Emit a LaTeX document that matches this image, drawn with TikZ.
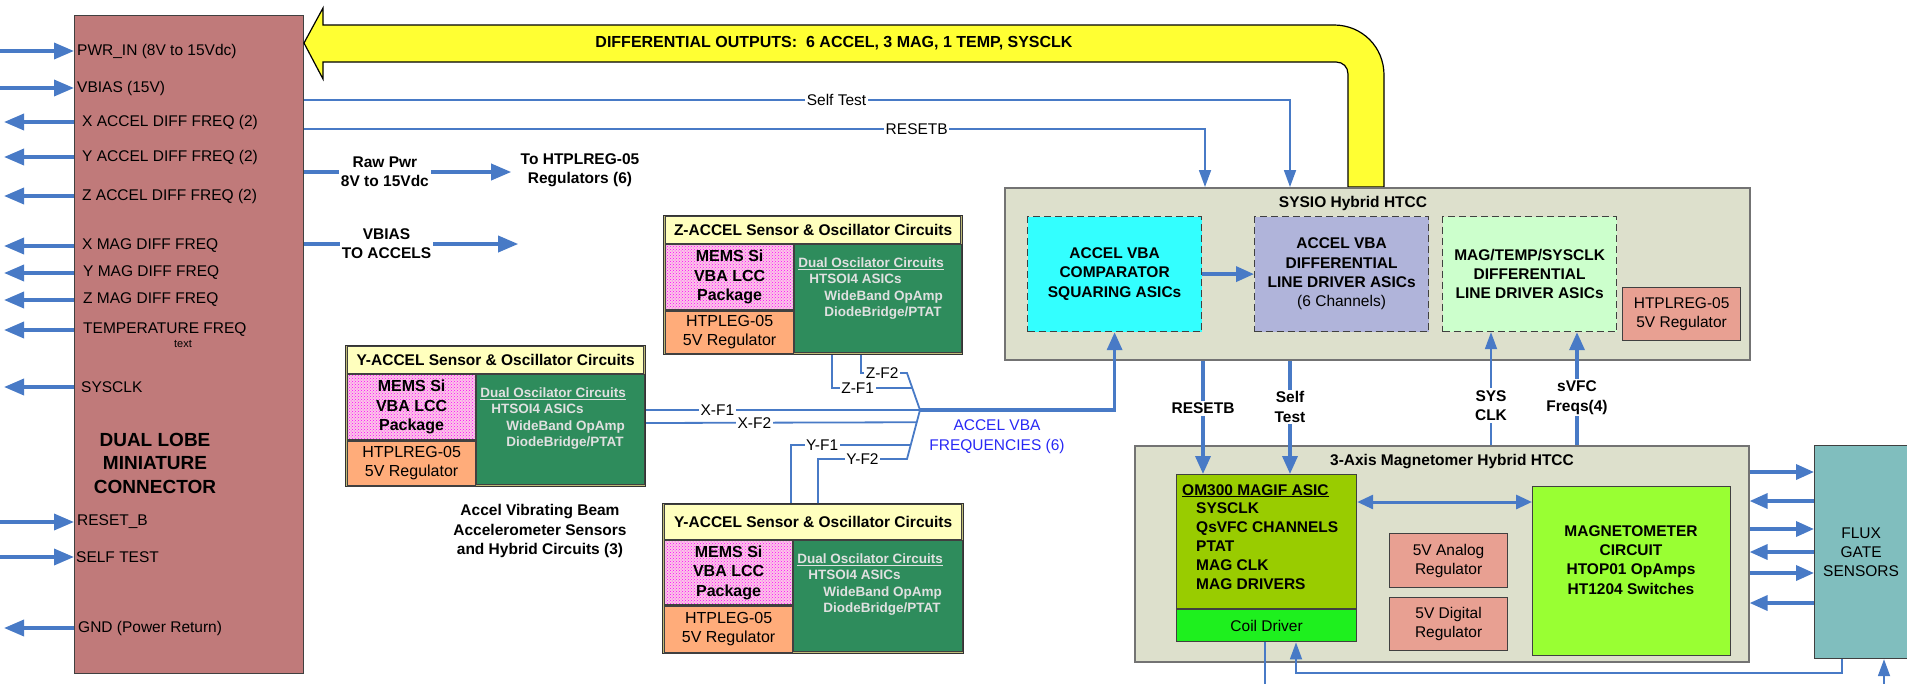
\documentclass[tikz,border=0pt]{standalone}
\usepackage{fontspec}
\setmainfont{Liberation Sans}
\usetikzlibrary{positioning,arrows.meta,patterns,calc}

\definecolor{connred}{RGB}{192,122,122}
\definecolor{sigblue}{RGB}{72,122,198}
\definecolor{busyellow}{RGB}{255,255,51}
\definecolor{htcc}{RGB}{221,224,204}
\definecolor{bandyellow}{RGB}{255,255,190}
\definecolor{modtan}{RGB}{190,186,120}
\definecolor{oscgreen}{RGB}{46,140,92}
\definecolor{ldoorange}{RGB}{255,172,122}
\definecolor{regsalmon}{RGB}{232,160,146}
\definecolor{cmpcyan}{RGB}{51,255,255}
\definecolor{drvlav}{RGB}{176,180,218}
\definecolor{drvmint}{RGB}{204,255,204}
\definecolor{asicgreen}{RGB}{153,204,0}
\definecolor{coilgreen}{RGB}{30,240,30}
\definecolor{maglime}{RGB}{153,255,51}
\definecolor{fluxteal}{RGB}{128,190,190}
\definecolor{freqblue}{RGB}{40,40,245}

\newcommand{\nfont}{\fontsize{15.5}{18.5}\selectfont}
\newcommand{\bfont}{\fontsize{15.5}{19.3}\selectfont\bfseries}

\begin{document}
\begin{tikzpicture}[x=1pt,y=-1pt,
    every node/.style={inner sep=0pt,font=\nfont},
    pinlbl/.style={anchor=west},
    pinin/.style={draw=sigblue,line width=3.5pt,{Triangle[length=20pt,width=16pt]}-},
    pinout/.style={draw=sigblue,line width=3.5pt,-{Triangle[length=20pt,width=16pt]}},
    sig/.style={draw=sigblue,line width=3.5pt,-{Triangle[length=18pt,width=15pt]}},
    sigboth/.style={draw=sigblue,line width=3pt,{Triangle[length=16pt,width=14pt]}-{Triangle[length=16pt,width=14pt]}},
    thinsig/.style={draw=sigblue,line width=1.8pt,-{Triangle[length=17pt,width=12pt]}},
    wire/.style={draw=sigblue,line width=1.8pt},
    lbl/.style={fill=white,inner sep=1.5pt},
    blbl/.style={fill=white,inner sep=2pt,align=center,font=\bfont},
    plainbox/.style={anchor=north west,draw=black!75,line width=1.2pt,align=center},
    connbox/.style={plainbox,fill=connred},
    hybrid/.style={plainbox,fill=htcc,draw=black!55,line width=1.6pt},
    asicbox/.style={plainbox,dash pattern=on 7pt off 4pt,font=\bfont},
    regbox/.style={plainbox,fill=regsalmon,font=\fontsize{15.5}{19}\selectfont},
    modbox/.style={plainbox,fill=modtan,draw=black!80},
    bandbox/.style={plainbox,fill=bandyellow,font=\fontsize{15.5}{18}\selectfont\bfseries},
    memsbox/.style={plainbox,preaction={fill=magenta!22},pattern=crosshatch dots,pattern color=magenta,
                    font=\fontsize{16}{19.5}\selectfont\bfseries},
    ldobox/.style={plainbox,fill=ldoorange,font=\fontsize{16}{19}\selectfont},
    oscbox/.style={plainbox,fill=oscgreen},
    osctext/.style={anchor=north west,align=left,text=white!88!black,font=\fontsize{13.5}{16.5}\selectfont\bfseries}]

  \useasboundingbox (0,0) rectangle (1907,683);

  % connector and its pins
  \node[connbox,minimum width=229pt,minimum height=658pt] (conn) at (74,15) {};
  \node[align=center,font=\fontsize{19}{23.5}\selectfont\bfseries] (conntitle) at (155,463) {DUAL LOBE\\MINIATURE\\CONNECTOR};

  \node[pinlbl] (pwr) at (77,51) {PWR\_IN (8V to 15Vdc)};
  \node[pinlbl] (vbias) at (77,88) {VBIAS (15V)};
  \node[pinlbl] (xacc) at (82,122) {X ACCEL DIFF FREQ (2)};
  \node[pinlbl] (yacc) at (82,157) {Y ACCEL DIFF FREQ (2)};
  \node[pinlbl] (zacc) at (82,196) {Z ACCEL DIFF FREQ (2)};
  \node[pinlbl] (xmag) at (82,246) {X MAG DIFF FREQ};
  \node[pinlbl] (ymag) at (83,273) {Y MAG DIFF FREQ};
  \node[pinlbl] (zmag) at (83,300) {Z MAG DIFF FREQ};
  \node[pinlbl] (temp) at (83,330) {TEMPERATURE FREQ};
  \node[font=\fontsize{11}{12}\selectfont] (tempnote) at (183,344) {text};
  \node[pinlbl] (sysclk) at (81,387) {SYSCLK};
  \node[pinlbl] (rstb) at (77,522) {RESET\_B};
  \node[pinlbl] (selft) at (76,557) {SELF TEST};
  \node[pinlbl] (gnd) at (78,628) {GND (Power Return)};

  \draw[pinin] (conn.west |- pwr) -- ++(-74,0);
  \draw[pinin] (conn.west |- vbias) -- ++(-74,0);
  \draw[pinout] (conn.west |- xacc) -- ++(-70,0);
  \draw[pinout] (conn.west |- yacc) -- ++(-70,0);
  \draw[pinout] (conn.west |- zacc) -- ++(-70,0);
  \draw[pinout] (conn.west |- xmag) -- ++(-70,0);
  \draw[pinout] (conn.west |- ymag) -- ++(-70,0);
  \draw[pinout] (conn.west |- zmag) -- ++(-70,0);
  \draw[pinout] (conn.west |- temp) -- ++(-70,0);
  \draw[pinout] (conn.west |- sysclk) -- ++(-70,0);
  \draw[pinin] (conn.west |- rstb) -- ++(-74,0);
  \draw[pinin] (conn.west |- selft) -- ++(-74,0);
  \draw[pinout] (conn.west |- gnd) -- ++(-70,0);

  % differential output bus back to the connector
  \draw[fill=busyellow,draw=black,line width=1.2pt] (304,43) -- (323,8) -- (323,25) -- (1334,25)
    .. controls (1362,25) and (1384,47) .. (1384,75) -- (1384,187) -- (1348,187) -- (1348,74)
    .. controls (1348,67) and (1343,62) .. (1336,62) -- (323,62) -- (323,79) -- cycle;
  \node[font=\fontsize{16}{18}\selectfont\bfseries] (bustext) at (834,43) {DIFFERENTIAL OUTPUTS:\ \ 6 ACCEL, 3 MAG, 1 TEMP, SYSCLK};

  % SYSIO hybrid
  \node[hybrid,minimum width=745pt,minimum height=172pt] (sysio) at (1004,187) {};
  \node[font=\bfont] (sysiotitle) at (1353,203) {SYSIO Hybrid HTCC};
  \node[asicbox,fill=cmpcyan,minimum width=174pt,minimum height=115pt] (cmp) at (1027,216) {ACCEL VBA\\COMPARATOR\\SQUARING ASICs};
  \node[asicbox,fill=drvlav,minimum width=174pt,minimum height=115pt] (drv) at (1254,216) {ACCEL VBA\\DIFFERENTIAL\\LINE DRIVER ASICs\\\mdseries(6 Channels)};
  \node[asicbox,fill=drvmint,minimum width=174pt,minimum height=115pt] (mdrv) at (1442,216) {MAG/TEMP/SYSCLK\\DIFFERENTIAL\\LINE DRIVER ASICs};
  \node[regbox,minimum width=118pt,minimum height=53pt] (sysreg) at (1622,287) {HTPLREG-05\\5V Regulator};
  \draw[sig] (cmp) -- (drv);

  % self test and reset lines from the connector
  \coordinate (stout) at ([yshift=-85pt]conn.north east);
  \coordinate (rstout) at ([yshift=-114pt]conn.north east);
  \coordinate (stin) at ([xshift=286pt]sysio.north west);
  \coordinate (rstin) at ([xshift=201pt]sysio.north west);
  \draw[thinsig] (stout) -| (stin) node[lbl,pos=0.27] {Self Test};
  \draw[thinsig] (rstout) -| (rstin) node[lbl,pos=0.34] {RESETB};

  % raw power and bias
  \coordinate (rawout) at ([yshift=-157pt]conn.north east);
  \coordinate (vbout) at ([yshift=-229pt]conn.north east);
  \draw[pinout] (rawout) -- ++(207,0) node[blbl,pos=0.39] {Raw Pwr\\8V to 15Vdc};
  \draw[pinout] (vbout) -- ++(214,0) node[blbl,pos=0.385] {VBIAS\\TO ACCELS};
  \node[align=center,font=\bfont] (ldonote) at (580,170) {To HTPLREG-05\\Regulators (6)};

  % Z accel module
  \node[modbox,minimum width=299pt,minimum height=139pt] (zmod) at (663,215) {};
  \node[bandbox,minimum width=295pt,minimum height=27pt] (zband) at ([shift={(2,1)}]zmod.north west) {Z-ACCEL Sensor \& Oscillator Circuits};
  \node[memsbox,minimum width=128pt,minimum height=65pt] (zmems) at (zband.south west) {MEMS Si\\VBA LCC\\Package};
  \node[ldobox,minimum width=128pt,minimum height=43pt] (zldo) at (zmems.south west) {HTPLEG-05\\5V Regulator};
  \node[oscbox,minimum width=167pt,minimum height=108pt] (zosc) at (zmems.north east) {};
  \node[osctext] (zosctxt) at ([shift={(4,13)}]zosc.north west) {\underline{Dual Oscilator Circuits}\\\hspace{11pt}HTSOI4 ASICs\\\hspace{26pt}WideBand OpAmp\\\hspace{26pt}DiodeBridge/PTAT};

  % Y accel module, left
  \node[modbox,minimum width=300pt,minimum height=141pt] (ylmod) at (345,345) {};
  \node[bandbox,minimum width=296pt,minimum height=27pt] (ylband) at ([shift={(2,1)}]ylmod.north west) {Y-ACCEL Sensor \& Oscillator Circuits};
  \node[memsbox,minimum width=128pt,minimum height=65pt] (ylmems) at (ylband.south west) {MEMS Si\\VBA LCC\\Package};
  \node[ldobox,minimum width=128pt,minimum height=45pt] (ylldo) at (ylmems.south west) {HTPLREG-05\\5V Regulator};
  \node[oscbox,minimum width=168pt,minimum height=110pt] (ylosc) at (ylmems.north east) {};
  \node[osctext] (ylosctxt) at ([shift={(4,13)}]ylosc.north west) {\underline{Dual Oscilator Circuits}\\\hspace{11pt}HTSOI4 ASICs\\\hspace{26pt}WideBand OpAmp\\\hspace{26pt}DiodeBridge/PTAT};

  % Y accel module, bottom
  \node[modbox,minimum width=301pt,minimum height=150pt] (ybmod) at (662,503) {};
  \node[bandbox,minimum width=297pt,minimum height=35pt] (ybband) at ([shift={(2,1)}]ybmod.north west) {Y-ACCEL Sensor \& Oscillator Circuits};
  \node[memsbox,minimum width=128pt,minimum height=64pt] (ybmems) at (ybband.south west) {MEMS Si\\VBA LCC\\Package};
  \node[ldobox,minimum width=128pt,minimum height=47pt] (ybldo) at (ybmems.south west) {HTPLEG-05\\5V Regulator};
  \node[oscbox,minimum width=169pt,minimum height=111pt] (ybosc) at (ybmems.north east) {};
  \node[osctext] (yblosctxt) at ([shift={(4,13)}]ybosc.north west) {\underline{Dual Oscilator Circuits}\\\hspace{11pt}HTSOI4 ASICs\\\hspace{26pt}WideBand OpAmp\\\hspace{26pt}DiodeBridge/PTAT};

  \node[align=center,font=\bfont] (accnote) at (540,531) {Accel Vibrating Beam\\Accelerometer Sensors\\and Hybrid Circuits (3)};

  % oscillator outputs fanning in
  \coordinate (jn) at (920,410);
  \coordinate (zfan) at (907,373);
  \coordinate (yfan) at (907,459);
  \draw[wire] ([xshift=198pt]zmod.south west) |- (zfan) node[lbl,pos=0.73] {Z-F2} -- (jn);
  \draw[wire] ([xshift=169pt]zmod.south west) |- ($(zfan)!0.4!(jn)$) node[lbl,pos=0.66] {Z-F1};
  \draw[wire] ([yshift=-65pt]ylmod.north east) -- (jn) node[lbl,pos=0.26] {X-F1};
  \draw[wire] ([yshift=-78pt]ylmod.north east) -- ($(yfan)!0.75!(jn)$) node[lbl,pos=0.4] {X-F2};
  \draw[wire] ([xshift=129pt]ybmod.north west) |- ($(yfan)!0.29!(jn)$) node[lbl,pos=0.63] {Y-F1};
  \draw[wire] ([xshift=156pt]ybmod.north west) |- (yfan) node[lbl,pos=0.75] {Y-F2} -- (jn);
  \draw[sig] (jn) -| (cmp.south);
  \node[text=freqblue,align=center,font=\fontsize{15.5}{20}\selectfont] (freqnote) at (997,437) {ACCEL VBA\\FREQUENCIES (6)};

  % magnetometer hybrid
  \node[hybrid,minimum width=614pt,minimum height=216pt] (maghy) at (1134,445) {};
  \node[font=\bfont] (maghytitle) at (1452,462) {3-Axis Magnetomer Hybrid HTCC};
  \node[plainbox,fill=asicgreen,minimum width=180pt,minimum height=134pt] (asic) at (1176,474) {};
  \node[plainbox,fill=coilgreen,minimum width=180pt,minimum height=32pt] (coil) at (asic.south west) {Coil Driver};
  \node[anchor=north west,align=left,font=\fontsize{15.5}{18.8}\selectfont\bfseries] (asictxt) at ([shift={(6,10)}]asic.north west)
    {\underline{OM300 MAGIF ASIC}\\\hspace{14pt}SYSCLK\\\hspace{14pt}QsVFC CHANNELS\\\hspace{14pt}PTAT\\\hspace{14pt}MAG CLK\\\hspace{14pt}MAG DRIVERS};
  \node[plainbox,fill=maglime,minimum width=198pt,minimum height=169pt] (magc) at (1532,486) {};
  \node[align=center,font=\bfont] (magctxt) at (1631,560) {MAGNETOMETER\\CIRCUIT\\HTOP01 OpAmps\\HT1204 Switches};
  \node[regbox,minimum width=118pt,minimum height=54pt] (areg) at (1389,533) {5V Analog\\Regulator};
  \node[regbox,minimum width=118pt,minimum height=53pt] (dreg) at (1389,597) {5V Digital\\Regulator};
  \node[plainbox,fill=fluxteal,minimum width=93pt,minimum height=213pt,font=\fontsize{15.5}{19}\selectfont] (flux) at (1814,445) {FLUX\\GATE\\SENSORS};
  \draw[sigboth] ([yshift=-28pt]asic.north east) -- ([yshift=-16pt]magc.north west);

  % sensor drive and pickup
  \draw[sig] ([yshift=-27pt]maghy.north east) -- ([yshift=-27pt]flux.north west);
  \draw[sig] ([yshift=-56pt]flux.north west) -- ([yshift=-56pt]maghy.north east);
  \draw[sig] ([yshift=-84pt]maghy.north east) -- ([yshift=-84pt]flux.north west);
  \draw[sig] ([yshift=-107pt]flux.north west) -- ([yshift=-107pt]maghy.north east);
  \draw[sig] ([yshift=-128pt]maghy.north east) -- ([yshift=-128pt]flux.north west);
  \draw[sig] ([yshift=-158pt]flux.north west) -- ([yshift=-158pt]maghy.north east);
  \draw[thinsig] ([xshift=28pt]flux.south west) -- ++(0,14) -| ([xshift=120pt]coil.south west);
  \draw[wire] ([xshift=89pt]coil.south west) -- ++(0,50);
  \coordinate (fluxfeed) at (1884,690);
  \draw[thinsig] (fluxfeed) -- (fluxfeed |- flux.south);

  % between the two hybrids
  \coordinate (rstm) at ([xshift=27pt]asic.north west);
  \coordinate (stm) at ([xshift=114pt]asic.north west);
  \coordinate (sysclkm) at ([xshift=49pt]mdrv.south west);
  \coordinate (svfcm) at ([xshift=135pt]mdrv.south west);
  \draw[sig] (rstm |- sysio.south) -- (rstm) node[blbl,pos=0.42] {RESETB};
  \draw[sig] (stm |- sysio.south) -- (stm) node[blbl,pos=0.41] {Self\\Test};
  \draw[thinsig] (sysclkm |- maghy.north) -- (sysclkm) node[blbl,pos=0.35] {SYS\\CLK};
  \draw[sig] (svfcm |- maghy.north) -- (svfcm) node[blbl,pos=0.42] {sVFC\\Freqs(4)};
\end{tikzpicture}
\end{document}
